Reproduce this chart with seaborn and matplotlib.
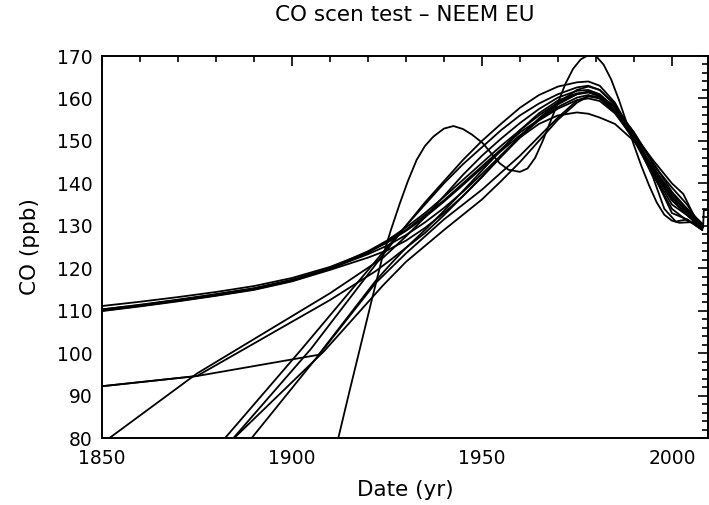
import numpy as np
import pandas as pd
import seaborn as sns
import matplotlib.pyplot as plt
from matplotlib.ticker import MultipleLocator

# scenario curves (year, CO ppb)
yr_a = [1850, 1860, 1870, 1880, 1890, 1900, 1910, 1920, 1925, 1930, 1935, 1940, 1945, 1950, 1955, 1960, 1965, 1970, 1975, 1978, 1981, 1985, 1990, 1995, 2000, 2004, 2008]
co_a = [111.1, 112.1, 113.2, 114.4, 115.8, 117.7, 120.3, 123.8, 126.0, 128.8, 132.0, 135.7, 139.6, 143.6, 147.6, 151.3, 154.8, 157.6, 159.6, 160.0, 159.4, 156.5, 150.5, 143.5, 137.0, 133.5, 130.0]
co_b = [110.3, 111.4, 112.6, 113.9, 115.3, 117.3, 120.0, 124.0, 126.5, 129.6, 133.0, 136.8, 140.8, 144.8, 148.8, 152.5, 156.0, 159.0, 161.0, 161.4, 160.5, 157.0, 150.8, 143.0, 136.0, 133.0, 129.5]
co_c = [110.0, 111.1, 112.3, 113.6, 115.0, 117.0, 119.9, 123.3, 125.3, 127.8, 130.8, 134.2, 138.0, 142.2, 146.6, 151.0, 155.3, 159.0, 162.0, 162.8, 162.0, 158.5, 151.5, 142.5, 133.0, 131.5, 129.0]
co_c2 = [109.9, 111.0, 112.2, 113.5, 114.9, 116.9, 119.6, 122.5, 124.2, 126.5, 129.5, 133.0, 137.0, 141.5, 146.2, 150.8, 155.0, 158.6, 161.0, 161.6, 160.8, 158.0, 152.0, 145.0, 138.0, 134.0, 130.2]

yr_d1 = [1850, 1875, 1910, 1922, 1926, 1930, 1935, 1940, 1945, 1950, 1955, 1960, 1965, 1970, 1975, 1978, 1981, 1985, 1990, 1995, 2000, 2004, 2008]
co_d1 = [92.2, 94.6, 112.5, 119.3, 122.0, 124.8, 128.3, 132.5, 137.0, 141.5, 146.5, 150.8, 154.0, 156.0, 156.7, 156.4, 155.5, 154.0, 150.0, 144.0, 137.5, 134.0, 130.5]

yr_d2 = [1850, 1875, 1907, 1922, 1926, 1930, 1935, 1940, 1945, 1950, 1955, 1960, 1965, 1970, 1975, 1978, 1981, 1985, 1990, 1995, 2000, 2004, 2008]
co_d2 = [92.2, 94.6, 99.6, 117.0, 121.0, 124.8, 129.0, 133.5, 138.2, 143.0, 147.8, 152.5, 156.5, 159.5, 161.2, 161.5, 160.8, 157.5, 151.0, 143.0, 136.0, 132.5, 129.5]

yr_e = [1850, 1875, 1910, 1924, 1930, 1935, 1940, 1945, 1950, 1955, 1960, 1965, 1970, 1975, 1978, 1981, 1985, 1990, 1995, 2000, 2004, 2008]
co_e = [78.7, 95.2, 114.1, 122.5, 127.5, 132.0, 137.0, 142.0, 146.5, 150.5, 154.2, 157.5, 160.2, 161.8, 162.0, 161.0, 157.8, 151.5, 143.5, 136.5, 133.5, 129.8]

yr_f = [1882.4, 1902.5, 1924, 1930, 1935, 1940, 1945, 1950, 1955, 1960, 1965, 1970, 1975, 1978, 1981, 1985, 1990, 1995, 2000, 2004, 2008]
co_f = [80.0, 100.9, 123.8, 130.0, 135.0, 140.0, 144.5, 148.5, 152.5, 156.0, 158.8, 161.0, 162.6, 163.0, 162.0, 158.5, 151.2, 142.5, 135.0, 132.5, 129.2]

yr_k = [1884.6, 1905, 1924, 1930, 1935, 1940, 1945, 1950, 1955, 1960, 1965, 1970, 1975, 1978, 1981, 1985, 1990, 1995, 1998, 2001, 2004, 2008]
co_k = [80.0, 101.0, 123.2, 130.0, 135.5, 140.5, 145.5, 150.0, 154.0, 157.8, 160.8, 162.8, 163.8, 164.0, 163.0, 159.0, 151.0, 141.5, 134.0, 131.0, 131.5, 129.0]

yr_g = [1884.8, 1908.5, 1924, 1930, 1940, 1950, 1955, 1960, 1965, 1970, 1975, 1978, 1981, 1985, 1990, 1995, 2000, 2004, 2008]
co_g = [80.0, 100.5, 116.0, 121.5, 129.0, 136.2, 140.5, 145.0, 150.0, 155.0, 159.0, 160.5, 160.5, 158.0, 152.0, 144.5, 139.0, 135.0, 129.5]

yr_h = [1889.4, 1908.8, 1922, 1930, 1940, 1950, 1955, 1960, 1965, 1970, 1975, 1978, 1981, 1985, 1990, 1995, 2000, 2003, 2006, 2008]
co_h = [80.0, 101.5, 116.5, 123.5, 131.5, 138.5, 142.5, 146.5, 151.0, 155.5, 159.5, 160.5, 160.0, 157.0, 151.5, 145.5, 140.0, 137.5, 132.0, 129.0]

yr_i = [1911, 1912.2, 1915, 1918, 1921, 1923.6, 1926, 1928.4, 1930.5, 1932.8, 1935, 1937.2, 1940, 1942.5, 1945, 1947.5, 1950.3, 1952.5, 1954.7, 1957, 1960,
        1962, 1964, 1966, 1968, 1970, 1972, 1974, 1976, 1978, 1980, 1982, 1984, 1986, 1988, 1990, 1992, 1994, 1996, 1998, 2000, 2002, 2004, 2006, 2008]
co_i = [76.3, 80.0, 90.5, 101.5, 112.5, 121.9, 128.9, 135.3, 140.5, 145.5, 148.8, 151.0, 152.9, 153.5, 152.8, 151.4, 149.4, 147.0, 144.7, 143.2, 142.7,
        143.5, 146.0, 150.0, 154.5, 159.0, 163.5, 167.0, 169.2, 170.2, 170.0, 168.0, 164.5, 159.8, 154.5, 149.0, 144.0, 139.5, 135.5, 132.6, 131.2, 130.7, 130.8, 130.9, 129.8]

yr_l = [1850, 1860, 1870, 1880, 1890, 1900, 1910, 1920, 1930, 1940, 1950, 1960, 1970, 1975, 1978, 1981, 1985, 1990, 1995, 2000, 2004, 2008.2, 2008.4, 2010]
co_l = [110.3, 111.3, 112.5, 113.8, 115.2, 117.2, 119.8, 123.6, 129.0, 136.0, 144.0, 152.0, 158.0, 160.2, 160.8, 160.0, 156.8, 150.2, 142.0, 134.0, 131.2, 129.5, 133.7, 133.7]

curves = {
    'a': (yr_a, co_a), 'b': (yr_a, co_b), 'c': (yr_a, co_c), 'c2': (yr_a, co_c2),
    'd1': (yr_d1, co_d1), 'd2': (yr_d2, co_d2), 'e': (yr_e, co_e), 'f': (yr_f, co_f),
    'k': (yr_k, co_k), 'g': (yr_g, co_g), 'h': (yr_h, co_h), 'i': (yr_i, co_i), 'l': (yr_l, co_l),
}
df = pd.concat([pd.DataFrame({'year': x, 'co': y, 'scen': name}) for name, (x, y) in curves.items()])

sns.set_style("white")
plt.rcParams['font.family'] = ['DejaVu Sans']
for k in ['text.color', 'axes.labelcolor', 'xtick.color', 'ytick.color', 'axes.edgecolor']:
    plt.rcParams[k] = 'black'

fig = plt.figure(figsize=(7.09, 5.05), dpi=100)
ax = fig.add_axes([102/709, 1 - 438/505, 606/709, 382/505])

sns.lineplot(data=df, x='year', y='co', units='scen', estimator=None, sort=False,
             color='black', lw=1.3, ax=ax)

ax.set_xlim(1850, 2009.5)
ax.set_ylim(80, 170)
ax.xaxis.set_major_locator(MultipleLocator(50))
ax.xaxis.set_minor_locator(MultipleLocator(10))
ax.yaxis.set_major_locator(MultipleLocator(10))
ax.yaxis.set_minor_locator(MultipleLocator(2))
ax.tick_params(which='both', direction='in', top=True, right=True, width=1.2, labelsize=13.5)
ax.tick_params(which='major', length=7.5)
ax.tick_params(which='minor', length=4)
ax.tick_params(axis='x', pad=8)
ax.tick_params(axis='y', pad=7)
for s in ax.spines.values():
    s.set_linewidth(1.4)

ax.set_xlabel('Date (yr)', fontsize=15.5, va='center')
ax.xaxis.set_label_coords(0.5, -52/382)
ax.set_ylabel('CO (ppb)', fontsize=15.5, va='center')
ax.yaxis.set_label_coords(-72/606, 0.5)
fig.text(405/709, 1 - 15/505, 'CO scen test \u2013 NEEM EU', fontsize=15.5, ha='center', va='center')

fig.savefig('out.png', dpi=100)
